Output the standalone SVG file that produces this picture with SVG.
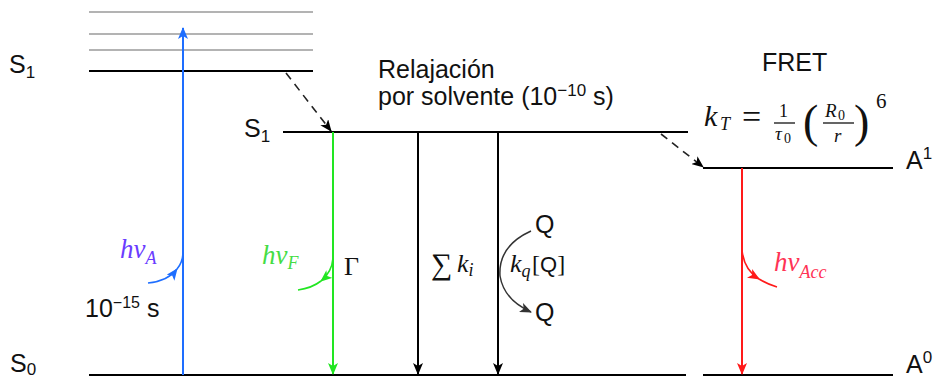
<svg xmlns="http://www.w3.org/2000/svg" width="936" height="379" viewBox="0 0 936 379">
<style>
.lvl{stroke:#000;stroke-width:2;fill:none}
.vib{stroke:#9a9a9a;stroke-width:1.6;fill:none}
.sans{font-family:"Liberation Sans",Arial,sans-serif;font-size:25px;fill:#111}
.math{font-family:"Liberation Serif","Times New Roman",serif;font-style:italic;fill:#111}
.up{font-family:"Liberation Serif","Times New Roman",serif;fill:#111}
.frac{stroke:#111;stroke-width:1.3}
</style>
<defs>
<marker id="ab" viewBox="0 0 12 10" refX="11" refY="5" markerWidth="12" markerHeight="10" markerUnits="userSpaceOnUse" orient="auto"><path d="M0,0 L12,5 L0,10 L3,5 z" fill="#000"/></marker>
<marker id="abl" viewBox="0 0 12 10" refX="11" refY="5" markerWidth="12" markerHeight="10" markerUnits="userSpaceOnUse" orient="auto"><path d="M0,0 L12,5 L0,10 L3,5 z" fill="#1e6eff"/></marker>
<marker id="ag" viewBox="0 0 12 10" refX="11" refY="5" markerWidth="12" markerHeight="10" markerUnits="userSpaceOnUse" orient="auto"><path d="M0,0 L12,5 L0,10 L3,5 z" fill="#22e622"/></marker>
<marker id="ar" viewBox="0 0 12 10" refX="11" refY="5" markerWidth="12" markerHeight="10" markerUnits="userSpaceOnUse" orient="auto"><path d="M0,0 L12,5 L0,10 L3,5 z" fill="#ff1a1a"/></marker>
<marker id="agr" viewBox="0 0 12 10" refX="11" refY="5" markerWidth="12" markerHeight="10" markerUnits="userSpaceOnUse" orient="auto"><path d="M0,0 L12,5 L0,10 L3,5 z" fill="#333"/></marker>
</defs>

<g id="donor-S1-hot">
<line class="vib" x1="89" y1="12" x2="313" y2="12"/>
<line class="vib" x1="89" y1="34" x2="313" y2="34"/>
<line class="vib" x1="89" y1="50" x2="313" y2="50"/>
<line class="lvl" x1="89" y1="71" x2="313" y2="71"/>
<text class="sans" x="9" y="73">S<tspan font-size="17" dy="5">1</tspan></text>
</g>

<g id="donor-S1-relaxed">
<line class="lvl" x1="283" y1="132" x2="688" y2="132"/>
<text class="sans" x="244" y="137">S<tspan font-size="17" dy="5">1</tspan></text>
</g>

<g id="donor-S0">
<line class="lvl" x1="89" y1="375" x2="686" y2="375"/>
<text class="sans" x="10" y="372">S<tspan font-size="17" dy="3">0</tspan></text>
</g>

<g id="acceptor-A1">
<line class="lvl" x1="703" y1="168" x2="893" y2="168"/>
<text class="sans" x="906" y="169">A<tspan font-size="17" dy="-10">1</tspan></text>
</g>

<g id="acceptor-A0">
<line class="lvl" x1="703" y1="375" x2="893" y2="375"/>
<text class="sans" x="906" y="373">A<tspan font-size="17" dy="-10">0</tspan></text>
</g>

<g id="label-relax">
<text class="sans" x="378" y="78">Relajación</text>
<text class="sans" x="378" y="105">por solvente (10<tspan font-size="17" dy="-9">−10</tspan><tspan dy="9"> s)</tspan></text>
</g>

<g id="label-fret">
<text class="sans" x="762" y="71">FRET</text>
<text class="math" x="704" y="126" font-size="30">k</text>
<text class="math" x="720" y="130" font-size="18">T</text>
<text class="up" x="742" y="128" font-size="34">=</text>
<text class="up" x="779" y="117" font-size="18">1</text>
<line class="frac" x1="774" y1="123" x2="795" y2="123"/>
<text class="math" x="775" y="140" font-size="19">τ</text>
<text class="up" x="784" y="143" font-size="14">0</text>
<text class="up" x="803" y="137" font-size="46">(</text>
<text class="math" x="825" y="117" font-size="19">R</text>
<text class="up" x="838" y="120" font-size="14">0</text>
<line class="frac" x1="823" y1="123" x2="854" y2="123"/>
<text class="math" x="834" y="142" font-size="19">r</text>
<text class="up" x="854" y="137" font-size="46">)</text>
<text class="up" x="876" y="108" font-size="21">6</text>
</g>

<g id="connectors">
<line x1="183" y1="375" x2="183" y2="28" stroke="#1e6eff" stroke-width="2" marker-end="url(#abl)"/>
<line x1="333" y1="132" x2="333" y2="374" stroke="#22e622" stroke-width="2" marker-end="url(#ag)"/>
<line x1="418" y1="132" x2="418" y2="374" stroke="#000" stroke-width="2" marker-end="url(#ab)"/>
<line x1="498" y1="132" x2="498" y2="374" stroke="#000" stroke-width="2" marker-end="url(#ab)"/>
<line x1="742" y1="168" x2="742" y2="374" stroke="#ff1a1a" stroke-width="2" marker-end="url(#ar)"/>
<line x1="286" y1="73" x2="331" y2="131" stroke="#222" stroke-width="1.6" stroke-dasharray="8,6" marker-end="url(#ab)"/>
<line x1="661" y1="134" x2="703" y2="167" stroke="#222" stroke-width="1.6" stroke-dasharray="8,6" marker-end="url(#ab)"/>
<path d="M148,283 Q168,281 177,269" stroke="#1e6eff" stroke-width="1.6" fill="none" marker-end="url(#abl)"/>
<path d="M177,269 Q183,262 183,252" stroke="#1e6eff" stroke-width="1.6" fill="none"/>
<path d="M333,258 Q332,272 321,281" stroke="#22e622" stroke-width="1.6" fill="none" marker-end="url(#ag)"/>
<path d="M321,281 Q312,288 298,290" stroke="#22e622" stroke-width="1.6" fill="none"/>
<path d="M742,250 Q744,270 759,279" stroke="#ff1a1a" stroke-width="1.6" fill="none" marker-end="url(#ar)"/>
<path d="M759,279 Q767,284 777,287" stroke="#ff1a1a" stroke-width="1.6" fill="none"/>
<path d="M531,231 Q498,246 500,276 Q504,300 531,312" stroke="#333" stroke-width="1.5" fill="none" marker-end="url(#agr)"/>
</g>

<g id="labels-transitions">
<text class="math" x="120" y="258" font-size="27" style="fill:#6a3cff">hν<tspan font-size="18" dy="6">A</tspan></text>
<text class="sans" x="85" y="317" font-size="24">10<tspan font-size="16" dy="-9">−15</tspan><tspan dy="9"> s</tspan></text>
<text class="math" x="262" y="264" font-size="27" style="fill:#44dd44">hν<tspan font-size="18" dy="5">F</tspan></text>
<text class="up" x="344" y="275" font-size="26">Γ</text>
<text class="up" x="431" y="274" font-size="30">∑</text>
<text class="math" x="457" y="272" font-size="26">k<tspan font-size="18" dy="4">i</tspan></text>
<text class="sans" x="535" y="233" font-size="22">Q</text>
<text class="math" x="510" y="272" font-size="26">k<tspan font-size="18" dy="5">q</tspan></text>
<text class="up" x="532" y="272" font-size="24">[<tspan font-family="Liberation Sans" font-size="22">Q</tspan>]</text>
<text class="sans" x="535" y="321" font-size="22">Q</text>
<text class="math" x="774" y="271" font-size="27" style="fill:#ff3355">hν<tspan font-size="18" dy="7">Acc</tspan></text>
</g>
</svg>
